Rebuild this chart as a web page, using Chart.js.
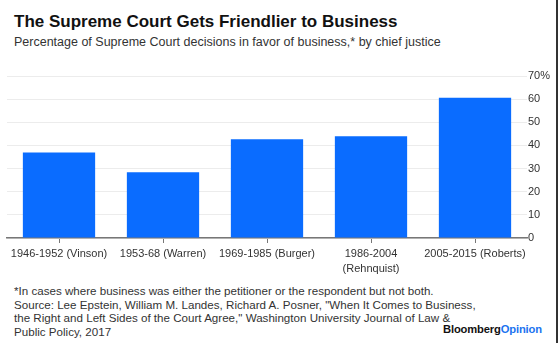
<!DOCTYPE html>
<html>
<head>
<meta charset="utf-8">
<script src="https://cdn.jsdelivr.net/npm/chart.js@4"></script>
<style>
  body { margin: 0; background: #fff; font-family: "Liberation Sans", Arial, sans-serif; }
  #wrap { position: relative; width: 560px; height: 343px; overflow: hidden; }
  #title { position: absolute; left: 14px; top: 12px; font-size: 17px; font-weight: bold; color: #111; white-space: nowrap; }
  #subtitle { position: absolute; left: 14px; top: 35px; font-size: 12.5px; color: #333; white-space: nowrap; }
  #chartBox { position: absolute; left: 0; top: 60px; width: 556px; height: 220px; }
  #notes { position: absolute; left: 14px; top: 284px; font-size: 11.6px; line-height: 13.7px; color: #333; white-space: nowrap; }
  #logo { position: absolute; left: 443px; top: 323px; font-size: 11.2px; font-weight: bold; color: #111; letter-spacing: -0.15px; }
  #logo span { color: #1a73f0; }
  #edge { position: absolute; left: 556px; top: 0; width: 2px; height: 343px; background: #333; }
</style>
</head>
<body>
<div id="wrap">
  <div id="title">The Supreme Court Gets Friendlier to Business</div>
  <div id="subtitle">Percentage of Supreme Court decisions in favor of business,* by chief justice</div>
  <div id="chartBox"><canvas id="barChart"></canvas></div>
  <div id="notes">
    *In cases where business was either the petitioner or the respondent but not both.<br>
    Source: Lee Epstein, William M. Landes, Richard A. Posner, "When It Comes to Business,<br>
    the Right and Left Sides of the Court Agree," Washington University Journal of Law &amp;<br>
    Public Policy, 2017
  </div>
  <div id="logo">Bloomberg<span>Opinion</span></div>
  <div id="edge"></div>
</div>
<script>
// chief justice eras
var eras = [
    '1946-1952 (Vinson)',
    '1953-68 (Warren)',
    '1969-1985 (Burger)',
    ['1986-2004', '(Rehnquist)'],
    '2005-2015 (Roberts)'
];
// % of decisions in favor of business
var proBusiness = [36.9, 28.4, 42.7, 44.0, 60.6];
var yTicks = [0, 10, 20, 30, 40, 50, 60, 70];

var ctx = document.getElementById('barChart').getContext('2d');
var myBarChart = new Chart(ctx, {
    type: 'bar',
    data: {
        labels: eras,
        datasets: [{
            label: 'Pro-business decisions',
            data: proBusiness,
            backgroundColor: '#0a6cff',
            barPercentage: 0.695,
            categoryPercentage: 1
        }]
    },
    options: {
        responsive: true,
        maintainAspectRatio: false,
        animation: false,
        layout: { padding: { top: 16, left: 7, right: 0, bottom: 0 } },
        plugins: {
            legend: { display: false },
            tooltip: { enabled: false }
        },
        scales: {
            x: {
                grid: {
                    offset: false,
                    drawOnChartArea: false,
                    drawTicks: true,
                    tickLength: 5,
                    color: '#777'
                },
                border: { display: true, color: '#777', width: 1.5 },
                ticks: {
                    color: '#333',
                    padding: 3,
                    maxRotation: 0,
                    autoSkip: false,
                    font: { family: '"Liberation Sans", Arial, sans-serif', size: 11, lineHeight: 1.4 }
                },
                afterFit: function (scale) { scale.height = 42; }
            },
            y: {
                position: 'right',
                min: 0,
                max: 70,
                afterBuildTicks: function (scale) {
                    scale.ticks = yTicks.map(function (v) { return { value: v }; });
                },
                grid: { color: '#ececec', drawTicks: false },
                border: { display: false },
                ticks: {
                    color: '#333',
                    padding: 1,
                    font: { family: '"Liberation Sans", Arial, sans-serif', size: 11 },
                    callback: function (value) { return value === 70 ? '70%' : value; }
                },
                afterFit: function (scale) { scale.width = 29; }
            }
        }
    }
});
</script>
</body>
</html>
